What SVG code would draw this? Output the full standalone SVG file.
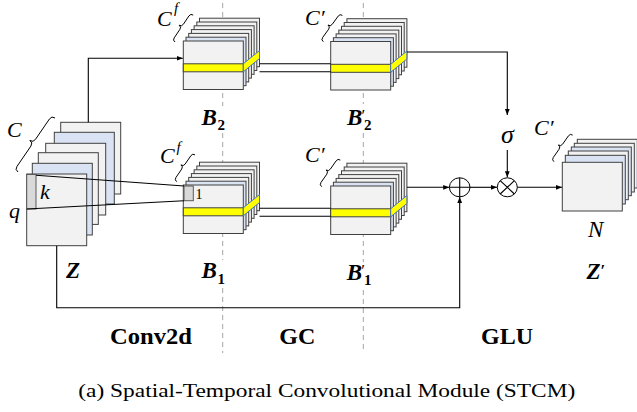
<svg xmlns="http://www.w3.org/2000/svg" xmlns:xlink="http://www.w3.org/1999/xlink" width="637" height="412" viewBox="0 0 637 412">
<style>
.g{fill:#f2f2f2;stroke:#404040;stroke-width:1}
.b{fill:#dae3f3;stroke:#404040;stroke-width:1}
.y{fill:#ffff00;stroke:#404040;stroke-width:1}
.ys{fill:#ffff00;stroke:#4472c4;stroke-width:1}
.ln{fill:none;stroke:#000;stroke-width:1.1}
.dash{fill:none;stroke:#a6a6a6;stroke-width:1;stroke-dasharray:5,4}
.br{fill:none;stroke:#000;stroke-width:0.9}
text{font-family:'Liberation Serif','Times New Roman',serif;fill:#000}
.mi{font-style:italic;font-size:22px}
.mb{font-style:italic;font-weight:bold;font-size:23px}
.sb{font-weight:bold;font-size:15px}
.pr{font-size:17px}
.lab{font-weight:bold;font-size:24px}
.cap{font-size:18.5px}
</style>
<defs>
<marker id="arr" viewBox="0 0 10 10" refX="10" refY="5" markerWidth="6" markerHeight="6" orient="auto" markerUnits="userSpaceOnUse">
<path d="M0,1 L10,5 L0,9 z" fill="#000"/>
</marker>
<g id="bstack">
<rect class="g" x="16.2" y="-22.8" width="60" height="48.5"/>
<rect class="g" x="13.5" y="-19" width="60" height="48.5"/>
<rect class="g" x="10.8" y="-15.2" width="60" height="48.5"/>
<rect class="g" x="8.1" y="-11.4" width="60" height="48.5"/>
<rect class="g" x="5.4" y="-7.6" width="60" height="48.5"/>
<rect class="b" x="2.7" y="-3.8" width="60" height="48.5"/>
<rect class="g" x="0" y="0" width="60" height="48.5"/>
<rect class="y" x="0" y="22.8" width="60" height="8"/>
<polygon class="ys" points="60,22.8 76.2,9.5 76.2,17.5 60,30.8"/>
</g>
<path id="brs" class="br" d="M0,0 Q0,-3 3,-3 L13.25,-3 Q16.25,-3 16.25,-6 Q16.25,-3 19.25,-3 L29.5,-3 Q32.5,-3 32.5,0"/>
</defs>

<g id="dividers">
<path class="dash" d="M222.7,3 V106 M222.7,133 V260 M222.7,288 V353"/>
<path class="dash" d="M363.3,3 V104 M363.3,133 V262 M363.3,290 V353"/>
</g>

<g id="Z">
<rect class="g" x="60.7" y="122.3" width="60" height="71.7"/>
<rect class="b" x="54.3" y="132.3" width="60" height="71.7"/>
<rect class="g" x="45.7" y="143.3" width="60" height="71.7"/>
<rect class="g" x="38.3" y="152.7" width="60" height="71.7"/>
<rect class="b" x="32.3" y="163.3" width="60" height="71.7"/>
<rect class="g" x="26.7" y="174" width="60" height="71.7"/>
<rect x="26.7" y="174.5" width="9.3" height="34.5" fill="#d9d9d9" stroke="#595959" stroke-width="1"/>
<path class="br" transform="translate(18,172) rotate(-55.6)" d="M0,0 Q0,-4 4,-4 L28.75,-4 Q32.75,-4 32.75,-8 Q32.75,-4 36.75,-4 L61.5,-4 Q65.5,-4 65.5,0"/>
<text class="mi" x="7" y="137">C</text>
<text class="mi" x="9" y="218">q</text>
<text class="mi" x="40" y="199" font-size="16">k</text>
<text class="mb" x="66" y="278.3">Z</text>
</g>

<g id="B2">
<use xlink:href="#bstack" transform="translate(183.3,41)"/>
<use xlink:href="#brs" transform="translate(175,42) rotate(-56)"/>
<text class="mi" x="157" y="26">C</text>
<text class="mi" x="174" y="13" style="font-size:15px">f</text>
<text class="mb" x="201.5" y="125">B</text>
<text class="sb" x="217.5" y="130">2</text>
</g>

<g id="B1">
<use xlink:href="#bstack" transform="translate(183.3,185)"/>
<rect x="184" y="186" width="9.3" height="14.7" fill="#d9d9d9" stroke="#595959" stroke-width="1"/>
<text x="195.5" y="198.5" style="font-size:14px">1</text>
<use xlink:href="#brs" transform="translate(176.7,181.7) rotate(-55.6)"/>
<text class="mi" x="160" y="163">C</text>
<text class="mi" x="176.5" y="152" style="font-size:15px">f</text>
<text class="mb" x="201.5" y="278.3">B</text>
<text class="sb" x="217.5" y="283.5">1</text>
</g>

<g id="B2p">
<use xlink:href="#bstack" transform="translate(330.7,41.5)"/>
<use xlink:href="#brs" transform="translate(323.3,41.7) rotate(-54)"/>
<text class="mi" x="305" y="25">C′</text>
<text class="mb" x="347" y="125">B</text>
<text class="pr" x="361.5" y="121">′</text>
<text class="sb" x="364" y="130">2</text>
</g>

<g id="B1p">
<use xlink:href="#bstack" transform="translate(330.7,186)"/>
<use xlink:href="#brs" transform="translate(321.7,186.7) rotate(-55)"/>
<text class="mi" x="305" y="162">C′</text>
<text class="mb" x="346.7" y="280">B</text>
<text class="pr" x="361.3" y="276">′</text>
<text class="sb" x="364" y="285">1</text>
</g>

<g id="sigma">
<text class="mi" x="507.3" y="143" text-anchor="middle" style="font-size:26px">σ</text>
</g>

<g id="plus">
<ellipse cx="459.7" cy="187.3" rx="10.3" ry="9.5" fill="#fff" stroke="#000" stroke-width="1"/>
<path class="ln" d="M449.4,187.3 H470 M459.7,177.8 V196.8"/>
</g>

<g id="times">
<ellipse cx="507.3" cy="187.3" rx="10" ry="9.5" fill="#fff" stroke="#000" stroke-width="1"/>
<path class="ln" d="M500.2,180.6 L514.4,194 M514.4,180.6 L500.2,194"/>
</g>

<g id="Zp">
<rect class="g" x="577.3" y="139.3" width="60" height="48.7"/>
<rect class="g" x="574.3" y="143.3" width="60" height="48.7"/>
<rect class="b" x="571.3" y="147" width="60" height="48.7"/>
<rect class="g" x="568.3" y="151" width="60" height="48.7"/>
<rect class="b" x="565.3" y="155.3" width="60" height="48.7"/>
<rect class="g" x="562.3" y="162.3" width="60" height="48.7"/>
<use xlink:href="#brs" transform="translate(554,161.7) rotate(-55)"/>
<text class="mi" x="534" y="135">C′</text>
<text class="mi" x="588" y="236.7" style="font-size:23px">N</text>
<text class="mb" x="586.5" y="279">Z</text>
<text class="pr" x="600.5" y="276" font-weight="bold">′</text>
</g>

<g id="connectors">
<path class="ln" d="M88.3,122.3 V58.3 H182.8" marker-end="url(#arr)"/>
<path class="ln" d="M259.5,63.8 H330.7 M259.5,71.8 H330.7"/>
<path class="ln" d="M259.5,208.3 H330.7 M259.5,216.3 H330.7"/>
<path class="ln" d="M36,175.3 L184,186 M26.7,209 L184,200.7"/>
<path class="ln" d="M407,52 H507.3 V115" marker-end="url(#arr)"/>
<path class="ln" d="M507.3,150 V177.3" marker-end="url(#arr)"/>
<path class="ln" d="M407,187.3 H449.2" marker-end="url(#arr)"/>
<path class="ln" d="M470,187.3 H497" marker-end="url(#arr)"/>
<path class="ln" d="M517.3,187.3 H562" marker-end="url(#arr)"/>
<path class="ln" d="M56.7,245.7 V307.7 H459.7 V197" marker-end="url(#arr)"/>
</g>

<g id="labels">
<text class="lab" x="110" y="344" textLength="82" lengthAdjust="spacingAndGlyphs">Conv2d</text>
<text class="lab" x="279.3" y="344" textLength="36" lengthAdjust="spacingAndGlyphs">GC</text>
<text class="lab" x="481" y="343.5" textLength="52" lengthAdjust="spacingAndGlyphs">GLU</text>
<text class="cap" x="78.3" y="396.5" textLength="497" lengthAdjust="spacingAndGlyphs">(a) Spatial-Temporal Convolutional Module (STCM)</text>
</g>
</svg>
